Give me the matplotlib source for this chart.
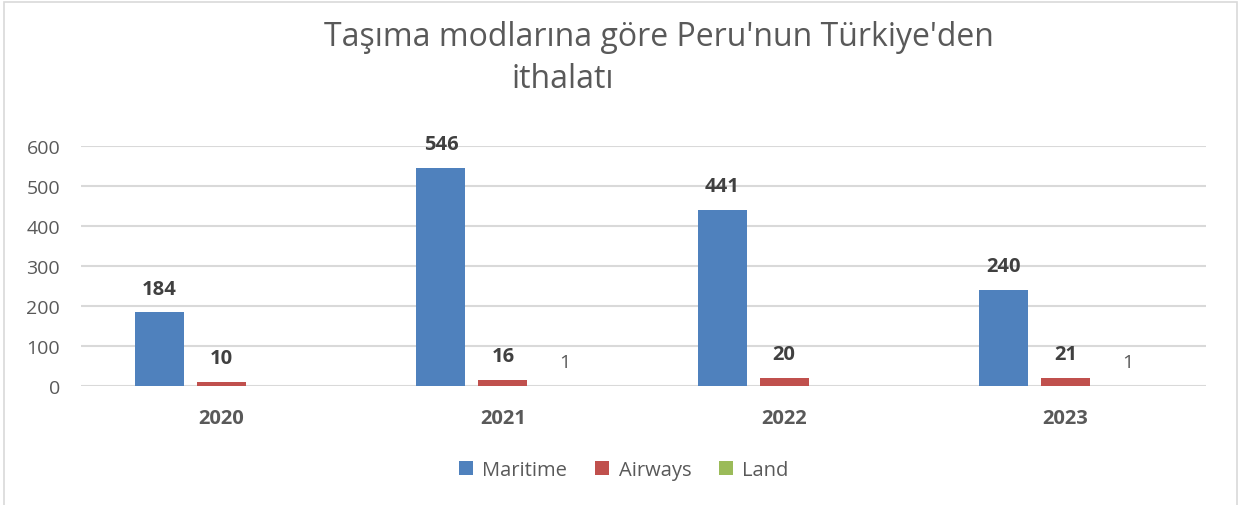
import matplotlib
matplotlib.use("Agg")
import matplotlib.pyplot as plt
import numpy as np
from matplotlib.patches import Rectangle

years = ["2020", "2021", "2022", "2023"]
series_names = ["Maritime", "Airways", "Land"]
maritime = [184, 546, 441, 240]
airways = [10, 16, 20, 21]
land = [None, 1, None, 1]
colors = ["#4F81BD", "#C0504D", "#9BBB59"]
title_line1 = "Taşıma modlarına göre Peru'nun Türkiye'den"
title_line2 = "ithalatı"

plt.rcParams['font.family'] = ['Open Sans', 'DejaVu Sans']
txt = "#595959"

fig = plt.figure(figsize=(12.43, 5.06), dpi=100)
ax = fig.add_axes([81/1243, 1-387/506, (1206-81)/1243, 240/506])

x = np.arange(len(years))
width = 0.174
step = 0.2204
all_series = [maritime, airways, land]
for i, (vals, name, c) in enumerate(zip(all_series, series_names, colors)):
    xs = x + (i - 1) * step
    v = [np.nan if a is None else a for a in vals]
    ax.bar(xs, v, width=width, color=c, label=name, zorder=3)
    for xx, a in zip(xs, vals):
        if a is None:
            continue
        if i == 2:
            ax.annotate(str(a), (xx, a), xytext=(0, 17), textcoords="offset points",
                        ha="center", va="center", fontsize=14, color=txt)
        else:
            ax.annotate(str(a), (xx, a), xytext=(0, 17), textcoords="offset points",
                        ha="center", va="center", fontsize=14.5, color="#404040",
                        fontweight="bold")

ax.set_xlim(-0.5, 3.5)
ax.set_ylim(0, 600)
ax.set_yticks(range(0, 601, 100))
ax.set_xticks(x)
ax.set_xticklabels(years, fontweight="bold", fontsize=14.5, color=txt)
ax.tick_params(axis="x", length=0, pad=16)
ax.tick_params(axis="y", length=0, pad=15, labelsize=14, labelcolor=txt)
ax.grid(axis="y", color="#D9D9D9", linewidth=1.5, zorder=0)
for s in ax.spines.values():
    s.set_visible(False)

fig.text(659/1243, 1-37/506, title_line1, ha="center", va="center", fontsize=23, color=txt)
fig.text(511/1243, 1-79/506, title_line2, ha="left", va="center", fontsize=23, color=txt)

leg = fig.legend(loc="center", bbox_to_anchor=(624/1243, 1-471/506), ncol=3, frameon=False,
                 fontsize=14.5, handlelength=0.7, handleheight=0.7, columnspacing=1.4,
                 handletextpad=0.45)
for t in leg.get_texts():
    t.set_color(txt)

fig.patches.append(Rectangle((4/1243, -0.1), 1233/1243, 1.1 - 3/506, transform=fig.transFigure,
                             fill=False, edgecolor="#D9D9D9", linewidth=1.2))

fig.savefig("out.png", dpi=100)
